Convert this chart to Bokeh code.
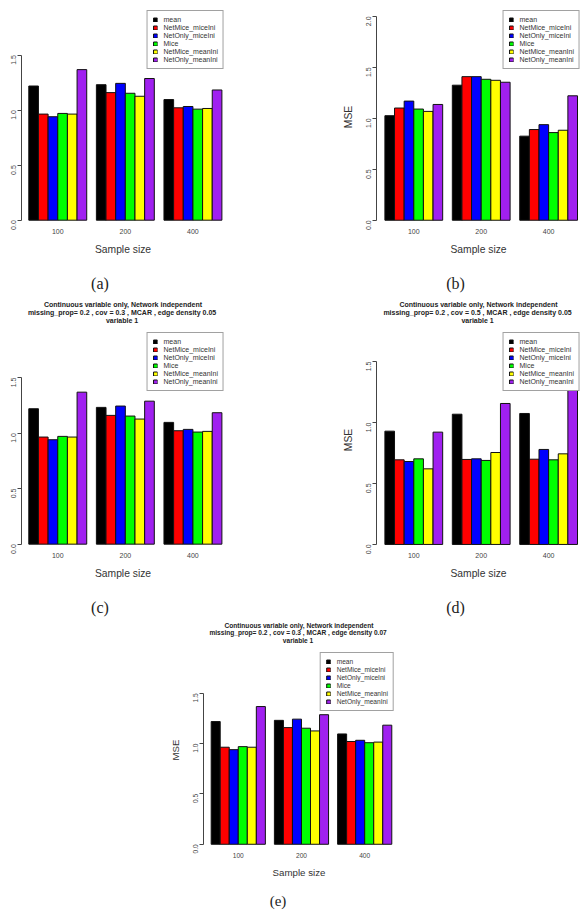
import math
from bokeh.plotting import figure
from bokeh.models import FixedTicker, PrintfTickFormatter, Range1d, Spacer, LinearAxis
from bokeh.layouts import column, row
from bokeh.embed import file_html
from bokeh.resources import INLINE

# ---------------- data ----------------
sample_sizes = ["100", "200", "400"]
methods = ["mean", "NetMice_miceIni", "NetOnly_miceIni", "Mice",
           "NetMice_meanIni", "NetOnly_meanIni"]
colors = ["#000000", "#FF0000", "#0000FF", "#00FF00", "#FFFF00", "#A020F0"]

# MSE values: one list per sample size, methods in the order above
mse_a = [[1.219, 0.964, 0.940, 0.970, 0.964, 1.368],
         [1.231, 1.159, 1.243, 1.153, 1.126, 1.287],
         [1.096, 1.021, 1.033, 1.009, 1.015, 1.183]]
mse_b = [[1.026, 1.101, 1.169, 1.091, 1.068, 1.136],
         [1.325, 1.409, 1.409, 1.383, 1.373, 1.354],
         [0.825, 0.890, 0.938, 0.860, 0.883, 1.221]]
mse_c = [[1.219, 0.964, 0.940, 0.970, 0.964, 1.368],
         [1.231, 1.159, 1.243, 1.153, 1.126, 1.287],
         [1.096, 1.021, 1.033, 1.009, 1.015, 1.183]]
mse_d = [[0.929, 0.694, 0.680, 0.702, 0.620, 0.921],
         [1.068, 0.697, 0.702, 0.689, 0.754, 1.156],
         [1.074, 0.699, 0.779, 0.694, 0.743, 1.300]]
mse_e = [[1.219, 0.964, 0.940, 0.970, 0.964, 1.368],
         [1.231, 1.159, 1.243, 1.153, 1.126, 1.287],
         [1.096, 1.021, 1.033, 1.009, 1.015, 1.183]]

yticks_15 = [0.0, 0.5, 1.0, 1.5]
yticks_20 = [0.0, 0.5, 1.0, 1.5, 2.0]

title_c = ["Continuous variable only, Network independent",
           "missing_prop= 0.2 , cov =  0.3 , MCAR , edge density 0.05",
           "variable  1"]
title_d = ["Continuous variable only, Network independent",
           "missing_prop= 0.2 , cov =  0.5 , MCAR , edge density 0.05",
           "variable  1"]
title_e = ["Continuous variable only, Network independent",
           "missing_prop= 0.2 , cov =  0.3 , MCAR , edge density 0.07",
           "variable  1"]

SANS = "Liberation Sans"
SERIF = "Liberation Serif"


def make_panel(values, yticks, caption, ylabel=None, title_lines=None,
               width=294, height=294, borders=(10, 70, 69, 21),
               xr=(0.245, 21.27), yr=(-0.03, 1.905), scale=1.0,
               cap_shift=-23, title_standoff=9, title_lh=1.1,
               cap_standoff=17, xlab_standoff=7):
    top, right, bottom, left = borders
    p = figure(width=width, height=height, output_backend="svg",
               toolbar_location=None, x_range=Range1d(*xr),
               y_range=Range1d(*yr), min_border_top=top,
               min_border_right=right, min_border_bottom=bottom,
               min_border_left=left)
    p.outline_line_color = None
    p.grid.visible = False
    p.background_fill_color = "white"

    n = len(methods)
    for j, (m, c) in enumerate(zip(methods, colors)):
        xs = [1 + g * (n + 1) + j + 0.5 for g in range(len(sample_sizes))]
        tops = [values[g][j] for g in range(len(sample_sizes))]
        p.vbar(x=xs, top=tops, bottom=0, width=1.0, fill_color=c,
               line_color="#111111", line_width=1, legend_label=m)

    fs = lambda v: f"{v * scale:.1f}px"

    # x axis: group labels only
    xa = p.xaxis[0]
    centers = [1 + g * (n + 1) + n / 2 for g in range(len(sample_sizes))]
    xa.ticker = FixedTicker(ticks=centers)
    xa.major_label_overrides = {cx: s for cx, s in zip(centers, sample_sizes)}
    xa.axis_line_color = None
    xa.major_tick_line_color = None
    xa.minor_tick_line_color = None
    xa.major_tick_out = 0
    xa.major_tick_in = 0
    xa.major_label_standoff = 5
    xa.major_label_text_font = SANS
    xa.major_label_text_font_size = fs(7)
    xa.major_label_text_color = "#444444"
    xa.axis_label = "Sample size"
    xa.axis_label_text_font = SANS
    xa.axis_label_text_font_size = fs(10.3)
    xa.axis_label_text_font_style = "normal"
    xa.axis_label_text_color = "#333333"
    xa.axis_label_standoff = xlab_standoff

    ya = p.yaxis[0]
    ya.ticker = FixedTicker(ticks=yticks)
    ya.formatter = PrintfTickFormatter(format="%.1f")
    ya.bounds = (yticks[0], yticks[-1])
    ya.axis_line_color = "#444444"
    ya.major_tick_line_color = "#444444"
    ya.minor_tick_line_color = None
    ya.major_tick_out = 4
    ya.major_tick_in = 0
    ya.major_label_orientation = math.pi / 2
    ya.major_label_standoff = 4
    ya.major_label_text_font = SANS
    ya.major_label_text_font_size = fs(7)
    ya.major_label_text_color = "#444444"
    if ylabel:
        ya.axis_label = ylabel
        ya.axis_label_text_font = SANS
        ya.axis_label_text_font_size = fs(10.3)
        ya.axis_label_text_font_style = "normal"
        ya.axis_label_text_color = "#333333"
        ya.axis_label_standoff = 7

    lg = p.legend[0]
    lg.location = "top_right"
    lg.margin = 0
    lg.padding = 5
    lg.spacing = 1
    lg.label_height = 5
    lg.glyph_width = 5
    lg.glyph_height = 5
    lg.label_standoff = 6
    lg.label_text_font = SANS
    lg.label_text_font_size = fs(7)
    lg.label_text_color = "#333333"
    lg.border_line_color = "#444444"
    lg.border_line_width = 1
    lg.background_fill_color = "white"
    lg.background_fill_alpha = 1.0

    # three-line header, drawn as the label of a bare axis above the plot
    if title_lines:
        hdr = LinearAxis(ticker=FixedTicker(ticks=[]), axis_line_color=None,
                         major_tick_line_color=None, minor_tick_line_color=None,
                         major_tick_out=0, major_tick_in=0,
                         major_label_standoff=0,
                         axis_label="\n".join(title_lines),
                         axis_label_standoff=title_standoff,
                         axis_label_text_font=SANS,
                         axis_label_text_font_size=fs(7),
                         axis_label_text_font_style="bold",
                         axis_label_text_line_height=title_lh,
                         axis_label_text_color="#222222")
        p.add_layout(hdr, "above")

    # sub-figure caption under the x axis label
    fw = width - left - right
    ppu = fw / (xr[1] - xr[0])
    cap_x = (xr[0] + xr[1]) / 2 + cap_shift / ppu
    cap = LinearAxis(ticker=FixedTicker(ticks=[cap_x]),
                     major_label_overrides={cap_x: caption},
                     axis_line_color=None, major_tick_line_color=None,
                     minor_tick_line_color=None, major_tick_out=0,
                     major_tick_in=0, major_label_standoff=cap_standoff,
                     major_label_text_font=SERIF,
                     major_label_text_font_size=fs(16),
                     major_label_text_color="#222222")
    p.add_layout(cap, "below")
    return p


pa = make_panel(mse_a, yticks_15, "(a)")
pb = make_panel(mse_b, yticks_20, "(b)", ylabel="MSE",
                borders=(10, 8, 69, 82), xr=(0.128, 21.31), yr=(-0.032, 2.058))
pc = make_panel(mse_c, yticks_15, "(c)", title_lines=title_c, height=324,
                borders=(38, 70, 71, 21))
pd_ = make_panel(mse_d, yticks_15, "(d)", ylabel="MSE", title_lines=title_d,
                 height=324, borders=(38, 8, 71, 82), xr=(0.128, 21.31),
                 yr=(-0.025, 1.738))
pe = make_panel(mse_e, yticks_15, "(e)", ylabel="MSE", title_lines=title_e,
                width=300, height=293, borders=(34, 56, 58, 53),
                xr=(0.15, 21.3), yr=(-0.032, 1.905), scale=0.94,
                cap_shift=-21, title_standoff=9, title_lh=1.05,
                cap_standoff=12, xlab_standoff=6)

layout = column(row(pa, pb), row(pc, pd_), row(Spacer(width=150, height=293), pe))

open("out.html", "w").write(file_html(layout, INLINE))
